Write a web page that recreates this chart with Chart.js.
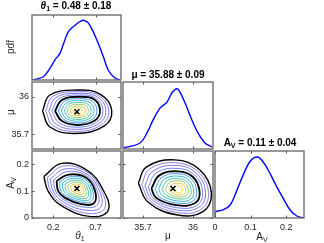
<!DOCTYPE html>
<html>
<head>
<meta charset="utf-8">
<script src="https://cdn.jsdelivr.net/npm/chart.js@4.4.1/dist/chart.umd.min.js"></script>
<style>
body{margin:0;background:#fff;}
#wrap{position:relative;width:324px;height:243px;overflow:hidden;font-family:"Liberation Sans",Arial,sans-serif;}
#wrap canvas{position:absolute;left:0;top:0;}
.t{position:absolute;font-weight:bold;font-size:10px;line-height:11px;white-space:nowrap;transform:translateX(-50%);color:#000;}
.lab{position:absolute;font-size:10px;line-height:11px;color:#262626;white-space:nowrap;transform:translate(-50%,-50%);}
.rot{transform:translate(-50%,-50%) rotate(-90deg);}
sub{font-size:70%;line-height:0;vertical-align:-0.3em;}
</style>
</head>
<body>
<div id="wrap">
<canvas id="c11" width="324" height="243"></canvas>
<canvas id="c21" width="324" height="243"></canvas>
<canvas id="c22" width="324" height="243"></canvas>
<canvas id="c31" width="324" height="243"></canvas>
<canvas id="c32" width="324" height="243"></canvas>
<canvas id="c33" width="324" height="243"></canvas>
<div class="t" style="left:76px;top:0px"><i>θ</i><sub>1</sub> = 0.48 ± 0.18</div>
<div class="t" style="left:168px;top:69px">μ = 35.88 ± 0.09</div>
<div class="t" style="left:260px;top:137px">A<sub>V</sub> = 0.11 ± 0.04</div>
<div class="lab rot" style="left:10px;top:47px">pdf</div>
<div class="lab rot" style="left:10px;top:112px">μ</div>
<div class="lab rot" style="left:10px;top:183px">A<sub>V</sub></div>
<div class="lab" style="left:80px;top:235px"><i>θ</i><sub>1</sub></div>
<div class="lab" style="left:168px;top:235px">μ</div>
<div class="lab" style="left:262px;top:236px">A<sub>V</sub></div>
</div>
<script>
// marginal pdfs (normalised to peak ~0.9)
var thetaX = [-0.046, 0.083, 0.162, 0.221, 0.28, 0.339, 0.378, 0.437, 0.516, 0.555, 0.575, 0.614, 0.673, 0.732, 0.791, 0.85, 0.929, 0.988];
var thetaPdf = [0, 0.05, 0.18, 0.31, 0.41, 0.62, 0.74, 0.82, 0.9, 0.92, 0.91, 0.88, 0.74, 0.56, 0.36, 0.15, 0.03, 0];
var muX = [35.58, 35.682, 35.724, 35.76, 35.802, 35.844, 35.874, 35.904, 35.922, 35.952, 35.994, 36.03, 36.072, 36.114];
var muPdf = [0.015, 0.09, 0.24, 0.43, 0.61, 0.70, 0.84, 0.9, 0.85, 0.69, 0.43, 0.24, 0.09, 0.03];
var avX = [0, 0.0005, 0.022, 0.042, 0.062, 0.079, 0.098, 0.118, 0.135, 0.154, 0.174, 0.191, 0.211, 0.23, 0.25];
var avPdf = [0, 0.09, 0.12, 0.19, 0.42, 0.64, 0.84, 0.91, 0.84, 0.67, 0.46, 0.3, 0.12, 0.03, 0];

// posterior means (cross markers)
var thetaMean = 0.48, muMean = 35.88, avMean = 0.11;

// tick values
var thetaTicks = [0.2, 0.7];
var muTicks = [35.7, 36];
var avTicks = [0, 0.1, 0.2];

// contour rings, outer -> inner, as [x, y]
var thetaMuRings = [
  [[0.074,35.886],[0.162,36.015],[0.477,36.055],[0.752,36.023],[0.89,35.894],[0.799,35.765],[0.457,35.705],[0.162,35.757]],
  [[0.111,35.886],[0.198,36.005],[0.487,36.042],[0.737,36.011],[0.856,35.89],[0.77,35.775],[0.466,35.722],[0.198,35.769]],
  [[0.148,35.886],[0.233,35.995],[0.497,36.028],[0.723,35.999],[0.821,35.887],[0.74,35.785],[0.475,35.739],[0.233,35.781]],
  [[0.184,35.886],[0.269,35.985],[0.506,36.015],[0.708,35.987],[0.787,35.884],[0.71,35.795],[0.483,35.756],[0.269,35.793]],
  [[0.221,35.886],[0.304,35.975],[0.516,36.001],[0.693,35.975],[0.752,35.88],[0.681,35.805],[0.492,35.773],[0.304,35.805]],
  [[0.259,35.886],[0.33,35.963],[0.513,35.985],[0.665,35.963],[0.716,35.881],[0.655,35.816],[0.492,35.789],[0.33,35.816]],
  [[0.294,35.886],[0.355,35.951],[0.51,35.97],[0.639,35.951],[0.682,35.882],[0.63,35.827],[0.492,35.804],[0.355,35.827]],
  [[0.329,35.886],[0.379,35.939],[0.506,35.955],[0.613,35.939],[0.648,35.882],[0.605,35.837],[0.492,35.818],[0.379,35.837]],
  [[0.365,35.886],[0.404,35.928],[0.503,35.94],[0.586,35.928],[0.614,35.883],[0.581,35.848],[0.492,35.833],[0.404,35.848]],
  [[0.4,35.886],[0.428,35.916],[0.5,35.925],[0.56,35.916],[0.58,35.884],[0.556,35.858],[0.492,35.848],[0.428,35.858]],
  [[0.438,35.886],[0.454,35.904],[0.497,35.909],[0.532,35.904],[0.544,35.885],[0.53,35.87],[0.492,35.863],[0.454,35.87]]
];
var thetaAvRings = [
  [[0.09,0.155],[0.3,0.204],[0.6,0.178],[0.78,0.11],[0.85,0.03],[0.65,0.005],[0.3,0.045],[0.14,0.1]],
  [[0.128,0.151],[0.32,0.194],[0.595,0.172],[0.758,0.109],[0.808,0.036],[0.618,0.017],[0.31,0.052],[0.17,0.1]],
  [[0.165,0.147],[0.34,0.183],[0.59,0.165],[0.735,0.108],[0.765,0.043],[0.585,0.029],[0.32,0.06],[0.2,0.1]],
  [[0.203,0.142],[0.36,0.173],[0.585,0.159],[0.713,0.106],[0.723,0.049],[0.553,0.041],[0.33,0.068],[0.23,0.1]],
  [[0.24,0.138],[0.38,0.162],[0.58,0.152],[0.69,0.105],[0.68,0.055],[0.52,0.053],[0.34,0.075],[0.26,0.1]],
  [[0.275,0.134],[0.395,0.154],[0.567,0.146],[0.662,0.105],[0.653,0.062],[0.516,0.061],[0.361,0.08],[0.292,0.101]],
  [[0.307,0.13],[0.409,0.147],[0.555,0.14],[0.636,0.106],[0.628,0.069],[0.512,0.068],[0.38,0.084],[0.322,0.102]],
  [[0.34,0.126],[0.424,0.14],[0.544,0.134],[0.61,0.106],[0.604,0.076],[0.508,0.075],[0.4,0.088],[0.352,0.103]],
  [[0.372,0.122],[0.438,0.133],[0.532,0.129],[0.583,0.107],[0.579,0.083],[0.504,0.082],[0.419,0.092],[0.381,0.104]],
  [[0.404,0.118],[0.452,0.126],[0.52,0.123],[0.557,0.107],[0.554,0.09],[0.5,0.089],[0.438,0.097],[0.411,0.105]],
  [[0.439,0.114],[0.467,0.119],[0.507,0.117],[0.529,0.107],[0.527,0.097],[0.495,0.097],[0.459,0.101],[0.443,0.106]]
];
var muAvRings = [
  [[35.672,0.13],[35.72,0.19],[35.89,0.217],[36.04,0.18],[36.11,0.095],[36.06,0.024],[35.9,0.012],[35.73,0.06]],
  [[35.692,0.125],[35.74,0.183],[35.895,0.206],[36.03,0.173],[36.093,0.095],[36.048,0.032],[35.9,0.021],[35.743,0.064]],
  [[35.711,0.12],[35.76,0.175],[35.9,0.196],[36.02,0.167],[36.075,0.095],[36.035,0.04],[35.9,0.03],[35.755,0.068]],
  [[35.731,0.115],[35.78,0.168],[35.905,0.185],[36.01,0.16],[36.058,0.095],[36.023,0.047],[35.9,0.039],[35.768,0.071]],
  [[35.75,0.11],[35.8,0.16],[35.91,0.174],[36.0,0.153],[36.04,0.095],[36.01,0.055],[35.9,0.048],[35.78,0.075]],
  [[35.773,0.11],[35.816,0.153],[35.91,0.165],[35.988,0.147],[36.022,0.097],[35.996,0.062],[35.902,0.056],[35.798,0.079]],
  [[35.794,0.109],[35.83,0.146],[35.911,0.156],[35.976,0.141],[36.005,0.098],[35.984,0.069],[35.903,0.064],[35.816,0.084]],
  [[35.815,0.109],[35.845,0.139],[35.911,0.147],[35.965,0.135],[35.989,0.1],[35.971,0.076],[35.905,0.072],[35.833,0.088]],
  [[35.836,0.108],[35.859,0.132],[35.911,0.139],[35.953,0.129],[35.972,0.101],[35.958,0.083],[35.906,0.079],[35.85,0.092]],
  [[35.857,0.108],[35.874,0.125],[35.911,0.13],[35.942,0.123],[35.956,0.103],[35.945,0.089],[35.908,0.087],[35.867,0.096]],
  [[35.88,0.108],[35.89,0.118],[35.912,0.12],[35.93,0.116],[35.938,0.105],[35.932,0.097],[35.91,0.095],[35.886,0.101]]
];

var levelColors = ['#000000', '#7d6ee0', '#7068e6', '#5d74ea', '#000000', '#3090e0', '#1eb0cc', '#3cbf98', '#8cc45a', '#e0ba3c', '#f6dc2e'];
var levelWidths = [1.4, 0.9, 0.9, 0.9, 1.8, 0.9, 0.9, 0.9, 0.9, 0.9, 0.9];

var tickFont = {family: '"Liberation Sans", Arial, sans-serif', size: 9};
var YW = 30, XH = 20; // room reserved for tick labels

var boxPlugin = {
  id: 'box',
  afterDraw: function(chart) {
    var ctx = chart.ctx, a = chart.chartArea;
    var sx = chart.scales.x, sy = chart.scales.y;
    ctx.save();
    ctx.strokeStyle = '#262626';
    ctx.lineWidth = 0.8;
    ctx.beginPath();
    sx.ticks.forEach(function(t) {
      var p = Math.round(sx.getPixelForValue(t.value)) + 0.5;
      ctx.moveTo(p, a.bottom); ctx.lineTo(p, a.bottom - 2.5);
      ctx.moveTo(p, a.top); ctx.lineTo(p, a.top + 2.5);
    });
    sy.ticks.forEach(function(t) {
      var p = Math.round(sy.getPixelForValue(t.value)) + 0.5;
      ctx.moveTo(a.left, p); ctx.lineTo(a.left + 2.5, p);
      ctx.moveTo(a.right, p); ctx.lineTo(a.right - 2.5, p);
    });
    ctx.stroke();
    ctx.strokeStyle = '#6e6e6e';
    ctx.lineWidth = 1.4;
    ctx.strokeRect(a.left, a.top, a.right - a.left, a.bottom - a.top);
    ctx.restore();
  }
};

function axis(min, max, ticks, showLabels, horizontal) {
  return {
    type: 'linear', min: min, max: max,
    afterBuildTicks: function(s) { s.ticks = ticks.map(function(v) { return {value: v}; }); },
    afterFit: function(s) { if (horizontal) s.height = XH; else s.width = YW; },
    grid: {display: false, drawTicks: false},
    border: {display: false},
    ticks: {display: showLabels, autoSkip: false, maxRotation: 0, padding: horizontal ? 4 : 3,
      color: '#262626', font: tickFont, callback: function(v) { return String(v); }}
  };
}

function makePanel(id, rect, xs, ys, datasets) {
  new Chart(document.getElementById(id), {
    type: 'scatter',
    data: {datasets: datasets},
    options: {
      responsive: false, animation: false, devicePixelRatio: 1,
      layout: {padding: {left: rect[0] - YW, top: rect[1], right: 324 - rect[2], bottom: 243 - rect[3] - XH}},
      plugins: {legend: {display: false}, tooltip: {enabled: false}},
      scales: {x: xs, y: ys}
    },
    plugins: [boxPlugin]
  });
}

function pdfSet(xv, yv) {
  return [{data: xv.map(function(x, i) { return {x: x, y: yv[i]}; }), showLine: true, borderColor: '#0000ff',
    borderWidth: 1.4, pointRadius: 0, tension: 0.35, fill: false}];
}

function contourSets(rings, mx, my) {
  var sets = [{data: [{x: mx, y: my}], pointStyle: 'crossRot', pointRadius: 3.5, borderColor: '#000', borderWidth: 1.5, backgroundColor: '#000'}];
  rings.forEach(function(r, i) {
    var pts = r.map(function(p) { return {x: p[0], y: p[1]}; });
    pts.push(pts[0]);
    sets.push({data: pts, showLine: true, borderColor: levelColors[i], borderWidth: levelWidths[i],
      pointRadius: 0, tension: 0.42, fill: false});
  });
  return sets;
}

var thR = [-0.05, 1.0], muR = [35.58, 36.12], avR = [0, 0.25];

makePanel('c11', [32, 15, 121, 80], axis(thR[0], thR[1], thetaTicks, false, true), axis(0, 1, [], false, false), pdfSet(thetaX, thetaPdf));
makePanel('c21', [32, 82, 121, 149], axis(thR[0], thR[1], thetaTicks, false, true), axis(muR[0], muR[1], muTicks, true, false), contourSets(thetaMuRings, thetaMean, muMean));
makePanel('c22', [123, 82, 213, 149], axis(muR[0], muR[1], muTicks, false, true), axis(0, 1, [], false, false), pdfSet(muX, muPdf));
makePanel('c31', [32, 151, 121, 218], axis(thR[0], thR[1], thetaTicks, true, true), axis(avR[0], avR[1], avTicks, true, false), contourSets(thetaAvRings, thetaMean, avMean));
makePanel('c32', [123, 151, 213, 218], axis(muR[0], muR[1], muTicks, true, true), axis(avR[0], avR[1], avTicks, false, false), contourSets(muAvRings, muMean, avMean));
makePanel('c33', [215, 151, 304, 218], axis(avR[0], avR[1], avTicks, true, true), axis(0, 1, [], false, false), pdfSet(avX, avPdf));
</script>
</body>
</html>
